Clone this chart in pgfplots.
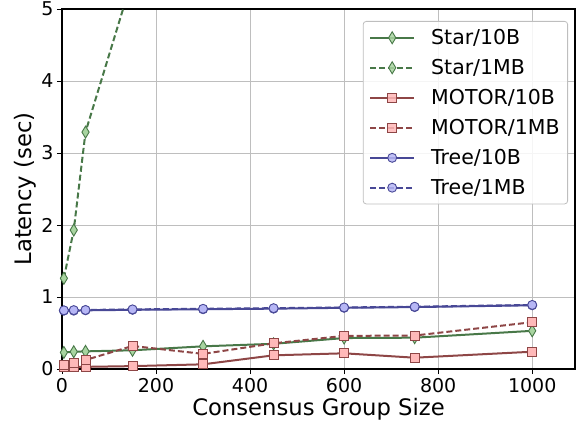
\documentclass[border=0pt]{standalone}
\usepackage{fontspec}
\setmainfont{DejaVu Sans}
\usepackage{pgfplots}
\pgfplotsset{compat=1.18}
\definecolor{starL}{RGB}{72,120,72}
\definecolor{starF}{RGB}{168,212,160}
\definecolor{motL}{RGB}{142,70,70}
\definecolor{motF}{RGB}{255,185,185}
\definecolor{treeL}{RGB}{72,72,150}
\definecolor{treeF}{RGB}{182,182,245}
\definecolor{gridc}{RGB}{190,190,190}
\begin{document}
\begin{tikzpicture}[x=1pt,y=1pt]
\begin{axis}[
  at={(0,0)}, anchor=south west,
  scale only axis, width=513pt, height=360pt,
  xmin=0, xmax=1091, ymin=0, ymax=5,
  xtick={0,200,400,600,800,1000},
  ytick={0,1,2,3,4,5},
  tick align=outside, tick pos=left,
  major tick length=5pt,
  tick style={black, line width=0.9pt},
  axis line style={black, line width=1.1pt},
  grid=major, grid style={gridc, line width=0.9pt},
  /pgf/number format/assume math mode=true,
  /pgf/number format/1000 sep={},
  ticklabel style={font=\fontsize{19}{22}\selectfont},
  xticklabel style={yshift=-1pt},
  label style={font=\fontsize{22.7}{27}\selectfont},
  xlabel={Consensus Group Size},
  ylabel={Latency (sec)},
  xlabel style={yshift=2pt},
  ylabel style={yshift=-2pt},
  legend cell align=left,
  legend style={at={(0.9864,0.9667)}, anchor=north east,
    font=\fontsize{20.5}{23}\selectfont,
    draw=gridc, line width=0.8pt, rounded corners=3pt, fill=white, fill opacity=0.85, text opacity=1,
    row sep=9.3pt, column sep=14pt, inner xsep=6pt, inner ysep=6pt},
  legend image code/.code={\draw[mark repeat=2,mark phase=2] plot coordinates {(0pt,0pt) (22pt,0pt) (44pt,0pt)};},
  clip=true,
]
\addplot[starL, line width=2pt, mark=diamond*, mark size=6pt, mark options={solid, fill=starF, xscale=0.8, line width=0.9pt}]
 coordinates {(4,0.23) (25,0.24) (50,0.245) (150,0.26) (300,0.315) (450,0.35) (600,0.43) (750,0.435) (1000,0.53)};
\addlegendentry{Star/10B}
\addplot[starL, line width=2pt, dash pattern=on 6pt off 3pt, mark=diamond*, mark size=6pt, mark options={solid, fill=starF, xscale=0.8, line width=0.9pt}]
 coordinates {(4,1.26) (25,1.93) (50,3.29) (150,5.43)};
\addlegendentry{Star/1MB}
\addplot[motL, line width=2pt, mark=square*, mark size=4.5pt, mark options={solid, fill=motF, line width=0.9pt}]
 coordinates {(4,0.03) (25,0.03) (50,0.03) (150,0.04) (300,0.065) (450,0.19) (600,0.218) (750,0.157) (1000,0.24)};
\addlegendentry{MOTOR/10B}
\addplot[motL, line width=2pt, dash pattern=on 6pt off 3pt, mark=square*, mark size=4.5pt, mark options={solid, fill=motF, line width=0.9pt}]
 coordinates {(4,0.05) (25,0.08) (50,0.125) (150,0.32) (300,0.21) (450,0.357) (600,0.46) (750,0.465) (1000,0.65)};
\addlegendentry{MOTOR/1MB}
\addplot[treeL, line width=2pt, mark=*, mark size=4.5pt, mark options={solid, fill=treeF, line width=0.9pt}]
 coordinates {(4,0.81) (25,0.81) (50,0.815) (150,0.822) (300,0.83) (450,0.838) (600,0.85) (750,0.86) (1000,0.885)};
\addlegendentry{Tree/10B}
\addplot[treeL, line width=2pt, dash pattern=on 6pt off 3pt, mark=*, mark size=4.5pt, mark options={solid, fill=treeF, line width=0.9pt}]
 coordinates {(4,0.815) (25,0.818) (50,0.82) (150,0.828) (300,0.836) (450,0.845) (600,0.855) (750,0.865) (1000,0.89)};
\addlegendentry{Tree/1MB}
\end{axis}
\pgfresetboundingbox
\useasboundingbox (-62pt,-60pt) rectangle (514pt,369pt);
\end{tikzpicture}
\end{document}
